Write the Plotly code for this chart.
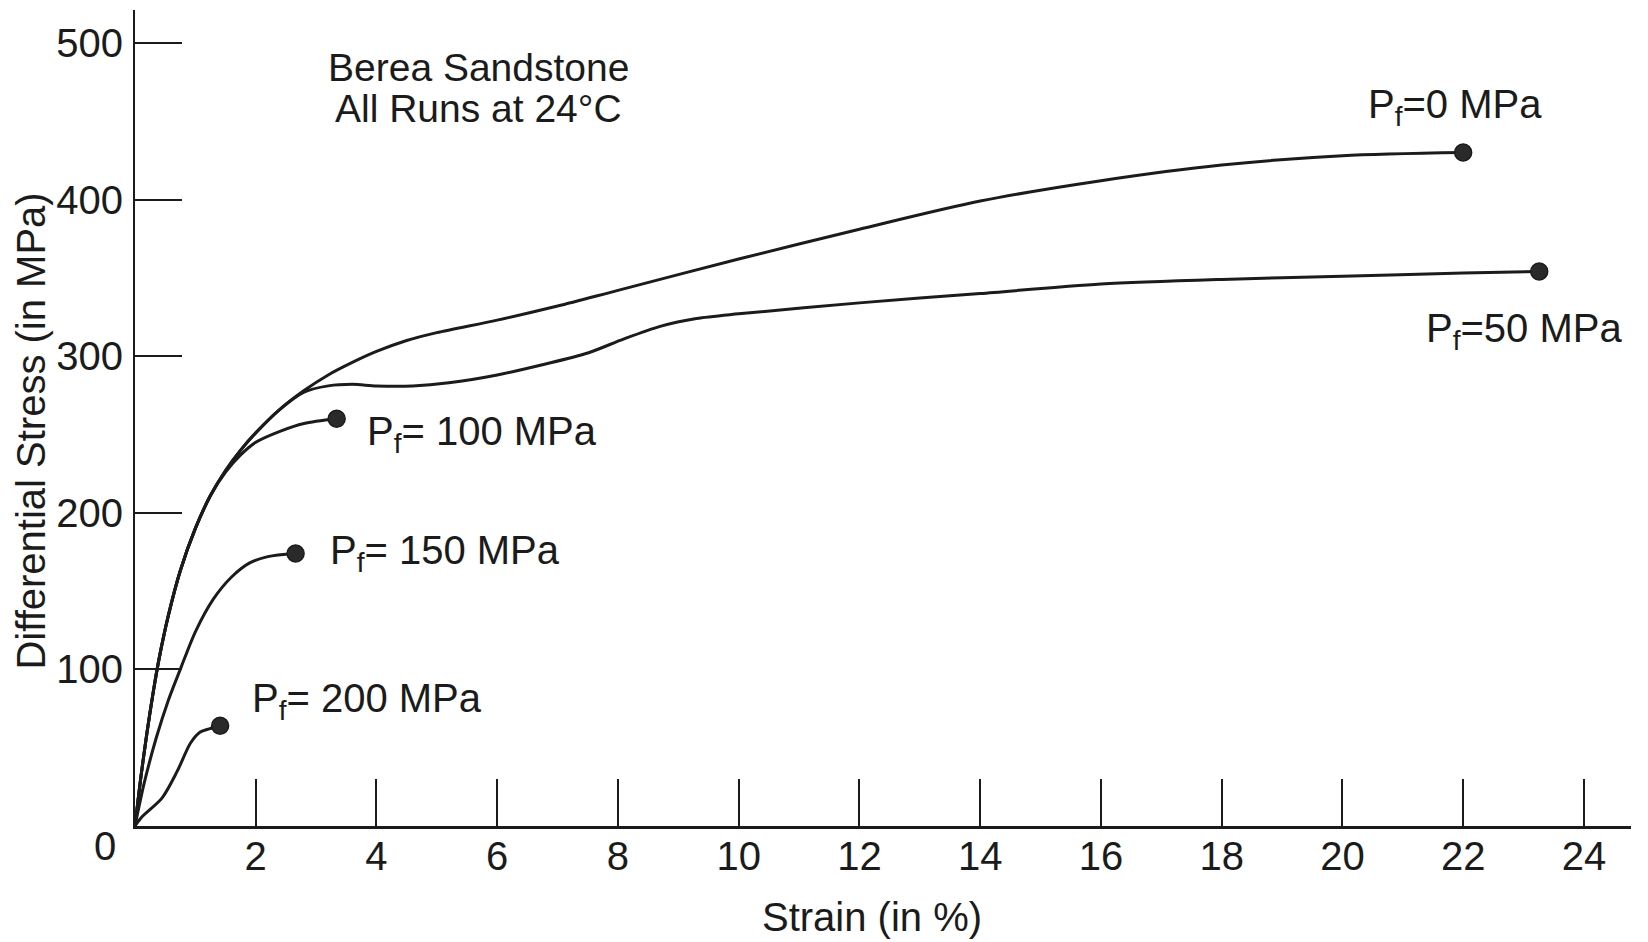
import plotly.graph_objects as go

# Stress-strain curves for Berea sandstone at several pore pressures
strain_0 = [0, 0.1, 0.2, 0.3, 0.4, 0.55, 0.75, 1.0, 1.25, 1.5, 1.75, 2.0, 2.4, 2.8, 3.2, 3.6,
            4.0, 4.5, 5.0, 6.0, 7.0, 8.0, 10, 12, 14, 16, 18, 20, 22]
stress_0 = [0, 32, 60, 85, 107, 134, 163, 190, 211, 227, 240, 251, 266, 278, 288, 296,
            303, 310, 315, 323, 332, 342, 362, 381, 399, 412, 422, 428, 430]

strain_50 = [0, 0.1, 0.2, 0.3, 0.4, 0.55, 0.75, 1.0, 1.25, 1.5, 1.75, 2.0, 2.4, 2.8, 3.2,
             3.6, 4.0, 4.6, 5.2, 6.0, 6.8, 7.5, 8.1, 8.7, 9.3, 10, 12, 14, 16, 18, 20, 22, 23.26]
stress_50 = [0, 32, 60, 85, 107, 134, 163, 190, 211, 227, 240, 251, 266, 277, 281,
             282, 281, 281, 283, 288, 295, 302, 311, 319, 324, 327, 334, 340, 346, 349, 351, 353, 354]

strain_100 = [0, 0.1, 0.2, 0.3, 0.4, 0.55, 0.75, 1.0, 1.25, 1.5, 1.75, 2.0, 2.4, 2.8, 3.34]
stress_100 = [0, 32, 60, 85, 107, 134, 163, 190, 211, 226, 237, 245, 252, 257, 260]

strain_150 = [0, 0.15, 0.35, 0.55, 0.75, 1.0, 1.3, 1.6, 1.9, 2.2, 2.66]
stress_150 = [0, 27, 56, 80, 100, 124, 145, 159, 168, 172, 174]

strain_200 = [0, 0.12, 0.45, 0.7, 0.92, 1.08, 1.23, 1.41]
stress_200 = [0, 6, 18, 35, 53, 60, 62, 64]

x_ticks = [2, 4, 6, 8, 10, 12, 14, 16, 18, 20, 22, 24]
y_ticks = [100, 200, 300, 400, 500]

# label text and its anchor (left edge, vertical middle) in data units
run_labels = [
    ("P<sub>f</sub>=0 MPa", 20.39, 459),
    ("P<sub>f</sub>=50 MPa", 21.35, 316),
    ("P<sub>f</sub>= 100 MPa", 3.81, 250),
    ("P<sub>f</sub>= 150 MPa", 3.20, 174),
    ("P<sub>f</sub>= 200 MPa", 1.91, 80),
]

INK = "#1b1b1b"
FONT = "Liberation Sans, Arial, sans-serif"
FS = 40

series = [(strain_0, stress_0), (strain_50, stress_50), (strain_100, stress_100),
          (strain_150, stress_150), (strain_200, stress_200)]

fig = go.Figure()
for xs, ys in series:
    fig.add_trace(go.Scatter(x=xs, y=ys, mode="lines",
                             line=dict(color=INK, width=3, shape="spline", smoothing=0.8),
                             hoverinfo="skip", showlegend=False))
# failure points at the end of each run
fig.add_trace(go.Scatter(x=[s[0][-1] for s in series], y=[s[1][-1] for s in series],
                         mode="markers",
                         marker=dict(size=17, color="#2a2a2a", line=dict(color=INK, width=1.5)),
                         showlegend=False))

txt_font = dict(size=FS, family=FONT, color=INK)
annotations = [
    dict(text="Berea Sandstone", x=5.69, y=484, xref="x", yref="y", showarrow=False,
         font=dict(size=39, family=FONT, color=INK), xanchor="center", yanchor="middle"),
    dict(text="All Runs at 24°C", x=5.69, y=458, xref="x", yref="y", showarrow=False,
         font=dict(size=39, family=FONT, color=INK), xanchor="center", yanchor="middle"),
    # origin label shared by both axes
    dict(text="0", x=-0.02, y=-0.025, xref="paper", yref="paper", showarrow=False,
         font=txt_font, xanchor="center", yanchor="middle"),
    # axis titles
    dict(text="Strain (in %)", x=0.4927, y=-0.112, xref="paper", yref="paper",
         showarrow=False, font=txt_font, xanchor="center", yanchor="middle"),
    dict(text="Differential Stress (in MPa)", x=-0.0692, y=0.484, xref="paper",
         yref="paper", showarrow=False, font=txt_font, textangle=-90,
         xanchor="center", yanchor="middle"),
]
for txt, lx, ly in run_labels:
    annotations.append(dict(text=txt, x=lx, y=ly, xref="x", yref="y", showarrow=False,
                            font=txt_font, xanchor="left", yanchor="middle"))

fig.update_layout(
    width=1648, height=942,
    margin=dict(l=135, r=17, t=10, b=116),
    paper_bgcolor="white", plot_bgcolor="white",
    font=dict(family=FONT, size=FS, color=INK),
    annotations=annotations,
    xaxis=dict(range=[0, 24.78], showgrid=False, zeroline=False, showline=True,
               linecolor=INK, linewidth=3, ticks="inside", ticklen=47, tickwidth=1.5,
               tickcolor=INK, tickvals=x_ticks, ticktext=[str(v) for v in x_ticks],
               ticklabelstandoff=-7),
    yaxis=dict(range=[0, 521], showgrid=False, zeroline=False, showline=True,
               linecolor=INK, linewidth=2, ticks="inside", ticklen=47, tickwidth=1.5,
               tickcolor=INK, tickvals=y_ticks, ticktext=[str(v) for v in y_ticks],
               ticklabelstandoff=2),
)

fig.write_html("out.html")
